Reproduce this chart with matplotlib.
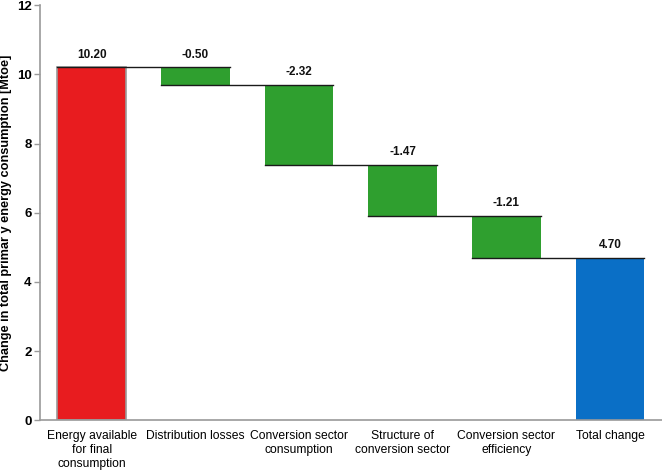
import matplotlib.pyplot as plt
import numpy as np

plt.rcParams['font.family'] = ['Liberation Sans', 'DejaVu Sans']

categories = ['Energy available\nfor final\nconsumption', 'Distribution losses',
              'Conversion sector\nconsumption', 'Structure of\nconversion sector',
              'Conversion sector\nefficiency', 'Total change']
changes = [10.20, -0.50, -2.32, -1.47, -1.21]
total = 4.70
value_labels = ['10.20', '-0.50', '-2.32', '-1.47', '-1.21', '4.70']

red = '#e81c1f'
green = '#2f9f2f'
blue = '#0a6fc6'

fig = plt.figure(figsize=(6.62, 4.70), dpi=100)
ax = fig.add_axes([0.060, 0.106, 0.940, 0.883])

x = np.arange(len(categories))
w = 0.66

# Waterfall: start levels and heights
levels = np.cumsum([0] + changes)  # 0, 10.2, 9.7, ...
bottoms, heights, colors = [], [], []
for i, c in enumerate(changes):
    if c >= 0:
        bottoms.append(levels[i]); heights.append(c)
    else:
        bottoms.append(levels[i] + c); heights.append(-c)
    colors.append(red if i == 0 else green)
bottoms.append(0); heights.append(total); colors.append(blue)

edges = ['#9a9a9a'] + ['none'] * 5
ax.bar(x, heights, bottom=bottoms, width=w, color=colors,
       edgecolor=edges, linewidth=1.2, zorder=2)

# connector lines: at each running level, from bar i left edge to bar i+1 right edge
for i in range(len(changes)):
    lvl = levels[i + 1]
    ax.plot([x[i] - w / 2, x[i + 1] + w / 2], [lvl, lvl], color='#1a1a1a',
            linewidth=1.0, zorder=3)

# value labels above each bar top
tops = [b + h for b, h in zip(bottoms, heights)]
for i, lab in enumerate(value_labels):
    ax.text(x[i], tops[i] + 0.2, lab, ha='center', va='bottom',
            fontsize=8.5, fontweight='bold', color='#111111')

ax.set_xlim(-0.5, 5.5)
ax.set_ylim(0, 12)
ax.set_yticks(range(0, 13, 2))
ax.set_xticks(x)
ax.set_xticklabels(categories, fontsize=8.7, linespacing=1.2)
ax.tick_params(axis='x', length=0, pad=7)
ax.tick_params(axis='y', length=4, width=1, color='#9a9a9a', labelsize=9.5, pad=2)
for lab in ax.get_yticklabels():
    lab.set_fontweight('bold')
ax.set_ylabel('Change in total primar y energy consumption [Mtoe]',
              fontsize=9.2, fontweight='bold')
ax.yaxis.set_label_coords(-0.045, 0.5)

for s in ['top', 'right']:
    ax.spines[s].set_visible(False)
for s in ['left', 'bottom']:
    ax.spines[s].set_color('#9a9a9a')
    ax.spines[s].set_linewidth(1.2)

fig.savefig('out.png', dpi=100)
